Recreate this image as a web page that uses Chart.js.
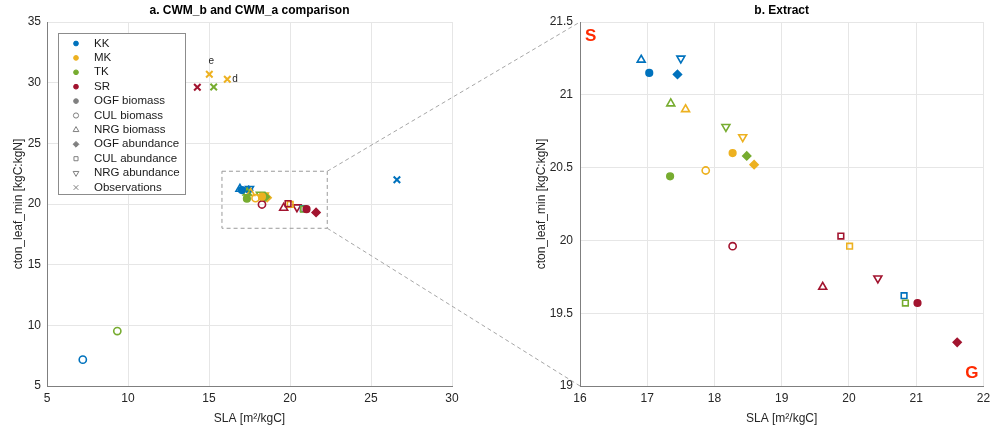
<!DOCTYPE html>
<html>
<head>
<meta charset="utf-8">
<script src="https://cdn.jsdelivr.net/npm/chart.js@4.4.1/dist/chart.umd.min.js"></script>
<style>
html,body{margin:0;padding:0;background:#fff;}
#wrap{position:relative;width:990px;height:432px;}
#wrap canvas{position:absolute;left:0;top:0;}
</style>
</head>
<body>
<div id="wrap">
  <canvas id="chartA" width="990" height="432"></canvas>
  <canvas id="chartB" width="990" height="432"></canvas>
</div>
<script>
// sites, same order everywhere: KK, MK, TK, SR
const sites = ['KK', 'MK', 'TK', 'SR'];
const siteColors = ['#0072BD', '#EDB120', '#77AC30', '#A2142F'];

// SLA [m2/kgC] and cton_leaf_min [kgC:kgN] per site
const ogfBiomassSLA  = [17.03, 18.27, 17.34, 21.02];
const ogfBiomassCton = [21.15, 20.60, 20.44, 19.57];
const culBiomassSLA  = [7.21, 17.87, 9.34, 18.27];
const culBiomassCton = [7.17, 20.48, 9.53, 19.96];
const nrgBiomassSLA  = [16.91, 17.57, 17.35, 19.61];
const nrgBiomassCton = [21.24, 20.90, 20.94, 19.68];
const ogfAbundSLA    = [17.45, 18.59, 18.48, 21.61];
const ogfAbundCton   = [21.14, 20.52, 20.58, 19.30];
const culAbundSLA    = [20.82, 20.01, 20.84, 19.88];
const culAbundCton   = [19.62, 19.96, 19.57, 20.03];
const nrgAbundSLA    = [17.50, 18.42, 18.17, 20.43];
const nrgAbundCton   = [21.25, 20.71, 20.78, 19.74];

// observations
const obsSite = ['KK', 'MK', 'MK', 'TK', 'SR'];
const obsSLA  = [26.6, 15.02, 16.13, 15.29, 14.28];
const obsCton = [22.0, 30.69, 30.28, 29.64, 29.62];
const obsTags = ['', 'e', 'd', '', ''];

// axes
const xTicksA = [5, 10, 15, 20, 25, 30];
const yTicksA = [5, 10, 15, 20, 25, 30, 35];
const xTicksB = [16, 17, 18, 19, 20, 21, 22];
const yTicksB = [19, 19.5, 20, 20.5, 21, 21.5];
const boxSLA  = [15.8, 22.3];   // dashed extract frame on panel a
const boxCton = [18.0, 22.7];

const typeNames = ['OGF biomass', 'CUL biomass', 'NRG biomass', 'OGF abundance', 'CUL abundance', 'NRG abundance', 'Observations'];

const FONT = "'Liberation Sans', Arial, Helvetica, sans-serif";
Chart.defaults.font.family = FONT;
Chart.defaults.font.size = 12;
Chart.defaults.color = '#262626';

// marker look per type (same order as typeNames)
const markers = [
  {style:'circle',   r:3.3, rot:0,   filled:true},
  {style:'circle',   r:3.6, rot:0,   filled:false},
  {style:'triangle', r:4.6, rot:0,   filled:false},
  {style:'rectRot',  r:4.0, rot:0,   filled:true},
  {style:'rect',     r:4.0, rot:0,   filled:false},
  {style:'triangle', r:4.6, rot:180, filled:false},
  {style:'crossRot', r:4.6, rot:0,   filled:false}
];

function pts(xs, ys){ return xs.map((x,i)=>({x:x, y:ys[i]})); }
function mk(i, data, colors){
  const m = markers[i];
  return {
    label: typeNames[i], data: data,
    pointStyle: m.style, pointRadius: m.r, pointRotation: m.rot,
    pointBorderWidth: m.style==='crossRot' ? 2 : 1.6,
    pointBorderColor: colors,
    pointBackgroundColor: m.filled ? colors : 'rgba(0,0,0,0)',
    showLine: false
  };
}
function buildDatasets(){
  const obsColors = obsSite.map(s => siteColors[sites.indexOf(s)]);
  return [
    mk(0, pts(ogfBiomassSLA, ogfBiomassCton), siteColors),
    mk(1, pts(culBiomassSLA, culBiomassCton), siteColors),
    mk(2, pts(nrgBiomassSLA, nrgBiomassCton), siteColors),
    mk(3, pts(ogfAbundSLA, ogfAbundCton), siteColors),
    mk(4, pts(culAbundSLA, culAbundCton), siteColors),
    mk(5, pts(nrgAbundSLA, nrgAbundCton), siteColors),
    mk(6, pts(obsSLA, obsCton), obsColors)
  ];
}

function axes(xt, yt, yWidth, yTitlePad, yTickPad){
  return {
    x: {
      type:'linear', min:xt[0], max:xt[xt.length-1],
      afterBuildTicks: s => { s.ticks = xt.map(v=>({value:v})); },
      afterFit: s => { s.height = 46; s.paddingLeft = 0; s.paddingRight = 0; },
      grid: {color:'#e6e6e6', drawTicks:false},
      border: {color:'#7f7f7f', width:1},
      ticks: {padding:5, font:{size:12}, color:'#262626', callback: v => String(v)},
      title: {display:true, text:'SLA [m\u00B2/kgC]', font:{size:12}, color:'#262626', padding:{top:0, bottom:6}}
    },
    y: {
      type:'linear', min:yt[0], max:yt[yt.length-1],
      afterBuildTicks: s => { s.ticks = yt.map(v=>({value:v})); },
      afterFit: s => { s.width = yWidth; },
      grid: {color:'#e6e6e6', drawTicks:false},
      border: {color:'#7f7f7f', width:1},
      ticks: {padding:yTickPad, font:{size:12}, color:'#262626', callback: v => String(v)},
      title: {display:true, text:'cton_leaf_min [kgC:kgN]', font:{size:12}, color:'#262626', padding:{top:yTitlePad, bottom:0}}
    }
  };
}

function titleOpts(text){
  return {display:true, text:text, fullSize:false, color:'#000',
          font:{size:12, weight:'bold'}, padding:{top:3, bottom:4.6}};
}

// dashed extract frame + legend + tags on panel a
const panelAPlugin = {
  id:'panelA',
  beforeDatasetsDraw(chart){
    const {ctx, scales:{x, y}} = chart;
    const x0 = x.getPixelForValue(boxSLA[0]), x1 = x.getPixelForValue(boxSLA[1]);
    const y0 = y.getPixelForValue(boxCton[1]), y1 = y.getPixelForValue(boxCton[0]);
    ctx.save();
    ctx.strokeStyle = '#9a9a9a'; ctx.lineWidth = 1; ctx.setLineDash([4,3]);
    ctx.strokeRect(x0, y0, x1-x0, y1-y0);
    ctx.restore();
  },
  afterDraw(chart){
    const {ctx, chartArea, scales:{x, y}} = chart;
    ctx.save();
    // observation tags
    ctx.font = '10px ' + FONT; ctx.fillStyle = '#262626';
    obsTags.forEach((t,i)=>{
      if(!t) return;
      const px = x.getPixelForValue(obsSLA[i]), py = y.getPixelForValue(obsCton[i]);
      if(i === 1){ ctx.textAlign='center'; ctx.textBaseline='middle'; ctx.fillText(t, px+2, py-13); }
      else { ctx.textAlign='left'; ctx.textBaseline='middle'; ctx.fillText(t, px+5, py); }
    });
    // legend
    const lx = chartArea.left + 11, ly = chartArea.top + 11, lw = 127, lh = 161;
    ctx.fillStyle = '#fff'; ctx.fillRect(lx, ly, lw, lh);
    ctx.strokeStyle = '#8c8c8c'; ctx.lineWidth = 1; ctx.strokeRect(lx+0.5, ly+0.5, lw, lh);
    const names = sites.concat(typeNames);
    ctx.font = '11.5px ' + FONT; ctx.textAlign = 'left'; ctx.textBaseline = 'middle';
    names.forEach((n,i)=>{
      const ry = ly + 10.5 + i*14.4, mx = lx + 18;
      let m, col;
      if(i < sites.length){ m = markers[0]; col = siteColors[i]; }
      else { m = markers[i - sites.length]; col = '#808080'; }
      ctx.fillStyle = m.filled ? col : 'rgba(0,0,0,0)';
      ctx.strokeStyle = col;
      Chart.helpers.drawPoint(ctx, {pointStyle:m.style, radius:m.r*0.72, rotation:m.rot,
        borderWidth: m.style==='crossRot' ? 1.6 : 1.3}, mx, ry);
      ctx.fillStyle = '#1a1a1a';
      ctx.fillText(n, lx + 36, ry);
    });
    ctx.restore();
  }
};

const chartA = new Chart(document.getElementById('chartA'), {
  type:'scatter',
  data:{datasets: buildDatasets()},
  options:{
    responsive:false, animation:false,
    layout:{padding:{left:0, right:538, top:0, bottom:0}},
    plugins:{legend:{display:false}, tooltip:{enabled:false}, title:titleOpts('a. CWM_b and CWM_a comparison')},
    scales: axes(xTicksA, yTicksA, 47, 11, 6)
  },
  plugins:[panelAPlugin]
});

// connectors + S / G labels on panel b
const panelBPlugin = {
  id:'panelB',
  afterDraw(chart){
    const {ctx, chartArea} = chart;
    const ax = chartA.scales.x, ay = chartA.scales.y;
    const bx = ax.getPixelForValue(boxSLA[1]);
    ctx.save();
    ctx.strokeStyle = '#a6a6a6'; ctx.lineWidth = 1; ctx.setLineDash([4,3]);
    ctx.beginPath();
    ctx.moveTo(bx, ay.getPixelForValue(boxCton[1])); ctx.lineTo(chartArea.left, chartArea.top);
    ctx.moveTo(bx, ay.getPixelForValue(boxCton[0])); ctx.lineTo(chartArea.left, chartArea.bottom);
    ctx.stroke();
    ctx.setLineDash([]);
    ctx.fillStyle = '#ff2a00'; ctx.font = 'bold 17px ' + FONT; ctx.textBaseline = 'middle';
    ctx.textAlign = 'left'; ctx.fillText('S', chartArea.left + 5, chartArea.top + 14);
    ctx.textAlign = 'right'; ctx.fillText('G', chartArea.right - 5, chartArea.bottom - 13);
    ctx.restore();
  }
};

const chartB = new Chart(document.getElementById('chartB'), {
  type:'scatter',
  data:{datasets: buildDatasets()},
  options:{
    responsive:false, animation:false,
    layout:{padding:{left:520, right:5, top:0, bottom:0}},
    plugins:{legend:{display:false}, tooltip:{enabled:false}, title:titleOpts('b. Extract')},
    scales: axes(xTicksB, yTicksB, 60, 14, 7)
  },
  plugins:[panelBPlugin]
});
</script>
</body>
</html>
